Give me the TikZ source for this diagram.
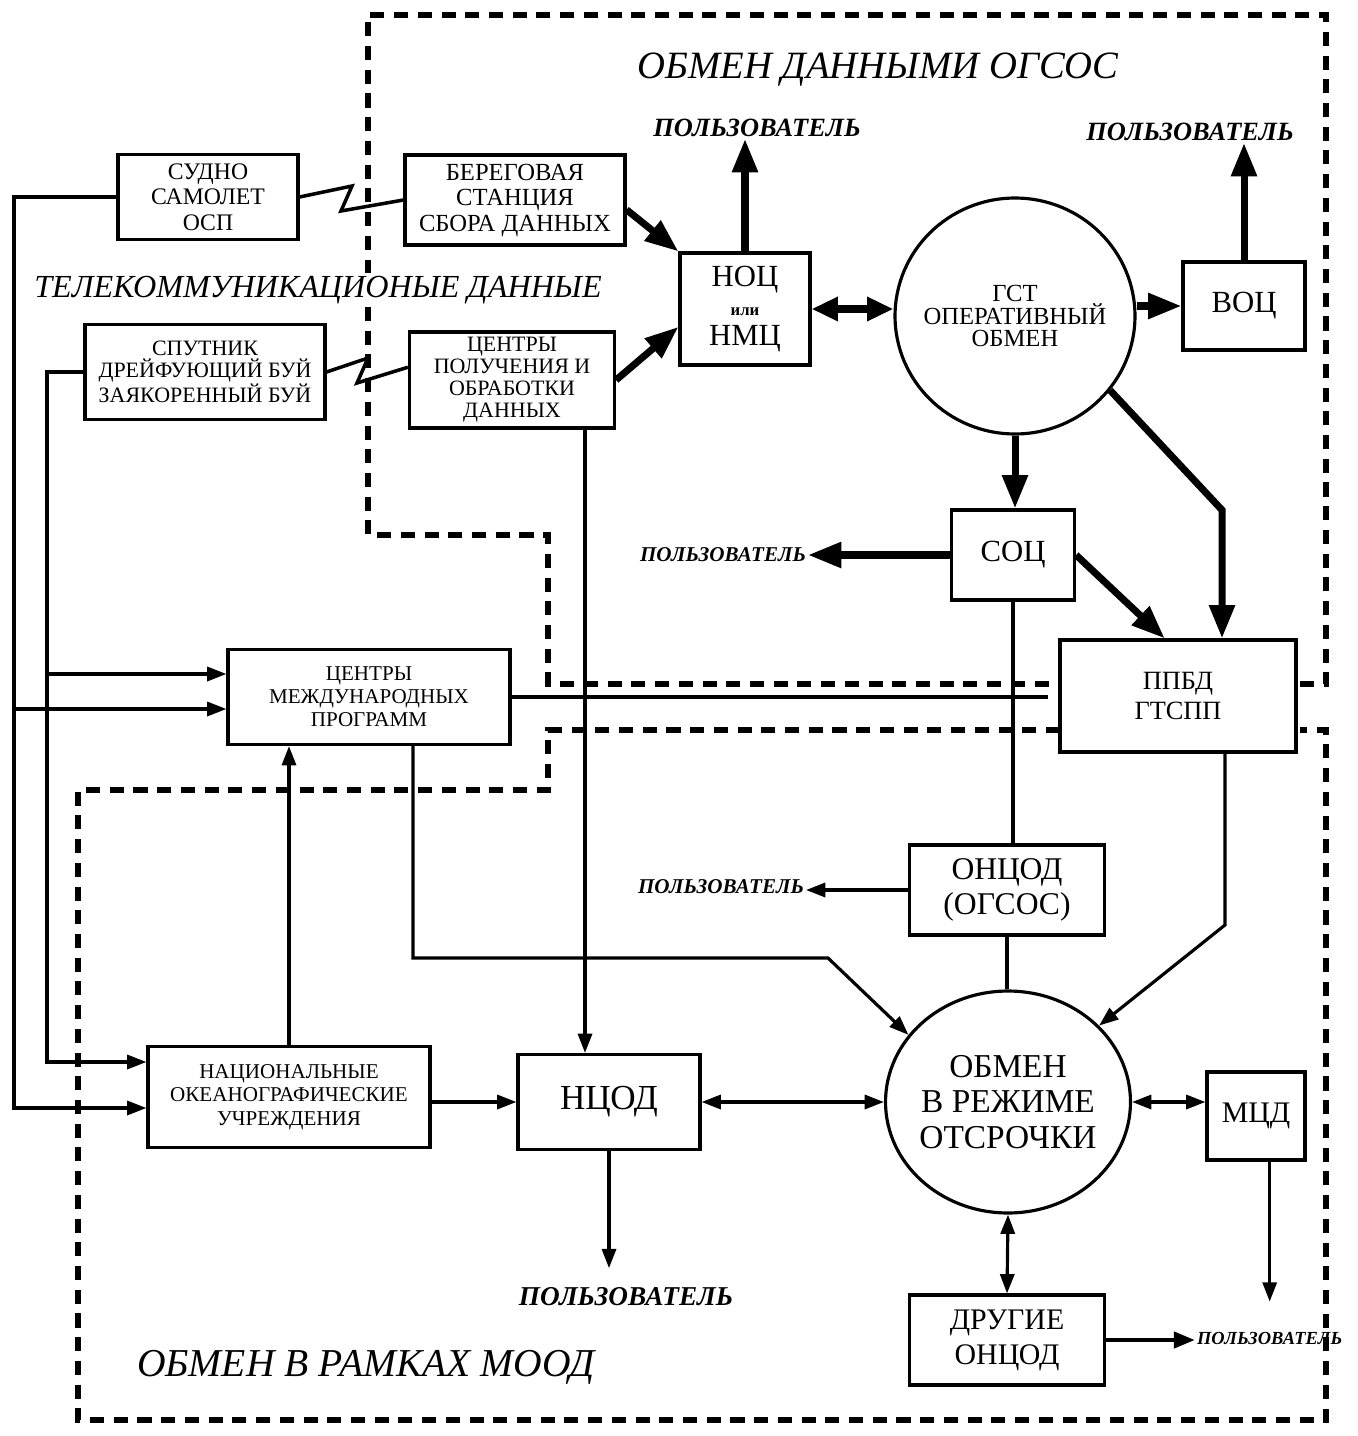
\documentclass[tikz,border=0pt]{standalone}
\usepackage{fontspec}
\setmainfont{Liberation Serif}
\usetikzlibrary{arrows.meta,shapes.geometric}

\begin{document}
\begin{tikzpicture}[x=0.02cm,y=-0.02cm]
	\tikzstyle{box}=[draw,line width=1.8pt,align=center,inner sep=2pt]
	\tikzstyle{krug}=[draw,ellipse,line width=1.8pt,inner sep=0pt]
	\tikzstyle{user}=[inner sep=1pt]
	\tikzstyle{title}=[inner sep=2pt,font=\fontsize{22}{22}\selectfont\itshape]
	\tikzstyle{line}=[line width=1.8pt]
	\tikzstyle{arr}=[line,-{Triangle[length=11pt,width=8pt]}]
	\tikzstyle{darr}=[line,{Triangle[length=11pt,width=8pt]}-{Triangle[length=11pt,width=8pt]}]
	\tikzstyle{mid}=[line width=2.6pt,-{Triangle[length=12pt,width=9pt]}]
	\tikzstyle{fat}=[line width=4pt,-{Triangle[length=19pt,width=14pt]}]
	\tikzstyle{fatd}=[line width=4pt,{Triangle[length=15pt,width=13pt]}-{Triangle[length=15pt,width=13pt]}]
	\tikzstyle{border}=[line width=3.5pt,dash pattern=on 8pt off 5.5pt]
	\useasboundingbox (0,0) rectangle (1358,1436);

	\draw[border] (1300,684) -- (1326,684) -- (1326,15) -- (368,15) -- (368,535) -- (548,535) -- (548,684) -- (1060,684);
	\draw[border] (1060,730) -- (548,730) -- (548,790) -- (78,790) -- (78,1420) -- (1326,1420) -- (1326,730) -- (1300,730);

	\node[title] (ogsos) at (878,70) {ОБМЕН ДАННЫМИ ОГСОС};
	\node[title,fill=white,font=\fontsize{18.3}{20}\selectfont\itshape] (telekom) at (318,290) {ТЕЛЕКОММУНИКАЦИОНЫЕ ДАННЫЕ};
	\node[title,font=\fontsize{22.5}{22.5}\selectfont\itshape] (mood) at (366,1367) {ОБМЕН В РАМКАХ МООД};

	\node[box,minimum width=3.6cm,minimum height=1.7cm,font=\fontsize{13.5}{14.5}\selectfont] (sudno) at (208,197) {СУДНО\\САМОЛЕТ\\ОСП};
	\node[box,minimum width=4.4cm,minimum height=1.8cm,font=\fontsize{14}{14.5}\selectfont] (bereg) at (515,200) {БЕРЕГОВАЯ\\СТАНЦИЯ\\СБОРА ДАННЫХ};
	\node[box,minimum width=2.6cm,minimum height=2.24cm,font=\fontsize{17.5}{17}\selectfont] (nots) at (745,309) {НОЦ\\{\fontsize{9.5}{9.5}\selectfont\bfseries или}\\НМЦ};
	\node[krug,minimum width=4.8cm,minimum height=4.72cm,label={[align=center,font=\fontsize{14}{13}\selectfont]center:ГСТ\\ОПЕРАТИВНЫЙ\\ОБМЕН}] (gst) at (1015,316) {};
	\node[box,minimum width=2.44cm,minimum height=1.76cm,font=\fontsize{17.5}{18}\selectfont] (vots) at (1244,306) {ВОЦ};
	\node[box,minimum width=4.8cm,minimum height=1.9cm,font=\fontsize{12.5}{12.5}\selectfont] (sputnik) at (205,372) {СПУТНИК\\ДРЕЙФУЮЩИЙ БУЙ\\ЗАЯКОРЕННЫЙ БУЙ};
	\node[box,minimum width=4.1cm,minimum height=1.92cm,font=\fontsize{12.5}{12.5}\selectfont] (tsentry) at (512,380) {ЦЕНТРЫ\\ПОЛУЧЕНИЯ И\\ОБРАБОТКИ\\ДАННЫХ};
	\node[box,minimum width=2.46cm,minimum height=1.8cm,font=\fontsize{17.5}{18}\selectfont] (sots) at (1013,555) {СОЦ};
	\node[box,minimum width=4.72cm,minimum height=2.24cm,font=\fontsize{15}{17}\selectfont] (ppbd) at (1178,696) {ППБД\\ГТСПП};
	\node[box,minimum width=5.64cm,minimum height=1.9cm,font=\fontsize{12}{13}\selectfont] (mezhd) at (369,697) {ЦЕНТРЫ\\МЕЖДУНАРОДНЫХ\\ПРОГРАММ};
	\node[box,minimum width=3.9cm,minimum height=1.8cm,font=\fontsize{18}{20}\selectfont] (onpod) at (1007,890) {ОНЦОД\\(ОГСОС)};
	\node[box,minimum width=5.64cm,minimum height=2.02cm,font=\fontsize{12}{13.3}\selectfont] (natsion) at (289,1097) {НАЦИОНАЛЬНЫЕ\\ОКЕАНОГРАФИЧЕСКИЕ\\УЧРЕЖДЕНИЯ};
	\node[box,minimum width=3.64cm,minimum height=1.9cm,font=\fontsize{20}{20}\selectfont] (ntsod) at (609,1102) {НЦОД};
	\node[krug,minimum width=4.9cm,minimum height=4.44cm,label={[align=center,font=\fontsize{19}{20}\selectfont]center:ОБМЕН\\В РЕЖИМЕ\\ОТСРОЧКИ}] (obmen) at (1008,1102) {};
	\node[box,minimum width=1.96cm,minimum height=1.76cm,font=\fontsize{17}{18}\selectfont] (mtsd) at (1256,1116) {МЦД};
	\node[box,minimum width=3.9cm,minimum height=1.8cm,font=\fontsize{17}{20}\selectfont] (drugie) at (1007,1340) {ДРУГИЕ\\ОНЦОД};

	\node[user,font=\fontsize{15}{15}\selectfont\bfseries\itshape] (polz1) at (757,128) {ПОЛЬЗОВАТЕЛЬ};
	\node[user,font=\fontsize{15}{15}\selectfont\bfseries\itshape] (polz2) at (1190,132) {ПОЛЬЗОВАТЕЛЬ};
	\node[user,anchor=east,font=\fontsize{12}{12}\selectfont\bfseries\itshape] (polz3) at (808,555) {ПОЛЬЗОВАТЕЛЬ};
	\node[user,anchor=east,font=\fontsize{12}{12}\selectfont\bfseries\itshape] (polz4) at (806,887) {ПОЛЬЗОВАТЕЛЬ};
	\node[user,font=\fontsize{15.5}{15.5}\selectfont\bfseries\itshape] (polz5) at (626,1297) {ПОЛЬЗОВАТЕЛЬ};
	\node[user,anchor=west,font=\fontsize{10.5}{10.5}\selectfont\bfseries\itshape] (polz6) at (1195,1338) {ПОЛЬЗОВАТЕЛЬ};

	\draw[line,line width=2pt] (sudno.east) -- (352,186) -- (341,211) -- (bereg.west);
	\draw[line,line width=2pt] (sputnik.east) -- (368,358) -- (357,383) -- (tsentry.173);

	\draw[arr] (sudno.west) -| (14,1108) -- (natsion.west |- 0,1108);
	\draw[arr] (14,709) -- (mezhd.west |- 0,709);
	\draw[arr] (sputnik.west) -| (47,1062) -- (natsion.west |- 0,1062);
	\draw[arr] (47,674) -- (mezhd.west |- 0,674);

	\draw[fat] (bereg.-5) -- (nots.north west);
	\draw[fat] (tsentry.east) -- (nots.195);
	\draw[fat] (nots.north) -- (nots.north |- polz1.south);
	\draw[fat] (vots.north) -- (vots.north |- polz2.south);
	\draw[fatd] (nots.east) -- (nots.east -| gst.west);
	\draw[fat] (gst.east |- vots.west) -- (vots.west);
	\draw[fat] (gst.south) -- (gst.south |- sots.north);
	\coordinate (g1) at (1222,510);
	\draw[fat] (gst.-38) -- (g1) -- (g1 |- ppbd.north);
	\draw[fat] (sots.west) -- (sots.west -| polz3.east);
	\draw[fat] (sots.east) -- (ppbd.103);

	\draw[line] (sots.south) -- (sots.south |- onpod.north);
	\draw[arr] (onpod.west) -- (onpod.west -| polz4.east);
	\draw[line] (onpod.south) -- (onpod.south |- obmen.north);
	\coordinate (p1) at (1225,925);
	\draw[arr] (ppbd.south -| p1) -- (p1) -- (obmen.40);
	\draw[line,shorten >=6pt] (mezhd.east) -- (mezhd.east -| ppbd.west);
	\coordinate (m1) at (413,958);
	\coordinate (m2) at (828,958);
	\draw[arr] (mezhd.south -| m1) -- (m1) -- (m2) -- (obmen.146);
	\draw[arr] (natsion.north) -- (natsion.north |- mezhd.south);
	\draw[arr] (natsion.east |- ntsod.west) -- (ntsod.west);
	\coordinate (v1) at (585,430);
	\draw[arr] (tsentry.south -| v1) -- (v1 |- ntsod.north);
	\draw[darr] (ntsod.east) -- (ntsod.east -| obmen.west);
	\draw[darr] (obmen.east) -- (obmen.east -| mtsd.west);
	\draw[arr,shorten >=16pt] (polz6.north |- mtsd.south) -- (polz6.north);
	\draw[arr,shorten >=10pt] (ntsod.south) -- (ntsod.south |- polz5.north);
	\draw[darr] (obmen.south) -- (drugie.north);
	\draw[mid] (drugie.east) -- (drugie.east -| polz6.west);
\end{tikzpicture}
\end{document}
